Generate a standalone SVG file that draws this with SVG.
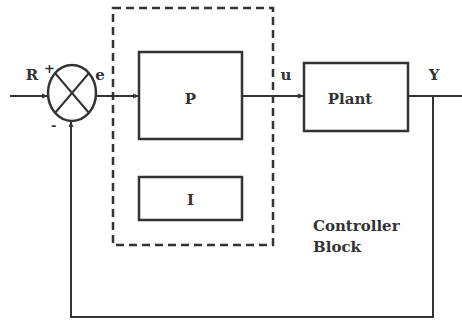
<svg xmlns="http://www.w3.org/2000/svg" width="462" height="320" viewBox="0 0 462 320">
<style>
.ln{stroke:#333;stroke-width:2;fill:none}
.bx{stroke:#333;stroke-width:2.5;fill:#fff}
.t{font-family:"DejaVu Serif","Liberation Serif",serif;font-weight:bold;font-size:15px;fill:#333}
.s{font-family:"DejaVu Serif","Liberation Serif",serif;font-weight:bold;font-size:13px;fill:#333}
</style>
<defs>
<marker id="ar" viewBox="0 0 10 10" refX="10" refY="5" markerWidth="6" markerHeight="6" orient="auto" markerUnits="userSpaceOnUse">
<path d="M0,1 L10,5 L0,9 z" fill="#333"/>
</marker>
</defs>
<rect width="462" height="320" fill="#fff"/>
<g id="controller">
<rect x="113" y="8" width="160" height="237" fill="none" stroke="#333" stroke-width="2.5" stroke-dasharray="8,5"/>
<text class="t" x="313" y="231">Controller</text>
<text class="t" x="313" y="252">Block</text>
</g>
<g id="connectors">
<line class="ln" x1="10" y1="96" x2="48" y2="96" marker-end="url(#ar)"/>
<line class="ln" x1="96" y1="96" x2="139" y2="96" marker-end="url(#ar)"/>
<line class="ln" x1="242" y1="96" x2="304" y2="96" marker-end="url(#ar)"/>
<line class="ln" x1="408" y1="96" x2="462" y2="96"/>
<polyline class="ln" points="433,96 433,317 71,317 71,121" marker-end="url(#ar)"/>
</g>
<g id="sum">
<ellipse cx="72" cy="93" rx="24" ry="28" fill="#fff" stroke="#333" stroke-width="2.5"/>
<line class="ln" x1="55" y1="73" x2="89" y2="113"/>
<line class="ln" x1="89" y1="73" x2="55" y2="113"/>
<text class="s" x="44" y="73">+</text>
<text class="s" x="51" y="130">-</text>
</g>
<g id="P">
<rect class="bx" x="139" y="52" width="103" height="87"/>
<text class="t" x="190.5" y="104" text-anchor="middle">P</text>
</g>
<g id="I">
<rect class="bx" x="139" y="177" width="103" height="43"/>
<text class="t" x="190.5" y="205" text-anchor="middle">I</text>
</g>
<g id="plant">
<rect class="bx" x="304" y="63" width="104" height="68"/>
<text class="t" x="350" y="104" text-anchor="middle">Plant</text>
</g>
<g id="labels">
<text class="t" x="32" y="80" text-anchor="middle">R</text>
<text class="t" x="100" y="80" text-anchor="middle">e</text>
<text class="t" x="286" y="80" text-anchor="middle">u</text>
<text class="t" x="434" y="80" text-anchor="middle">Y</text>
</g>
</svg>
